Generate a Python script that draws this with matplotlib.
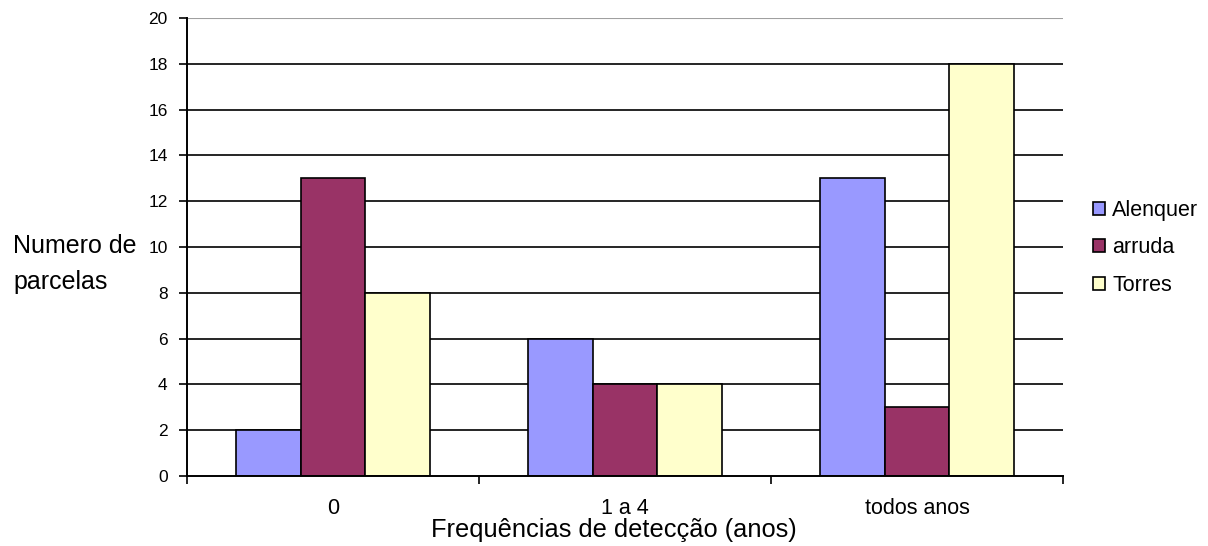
import matplotlib.pyplot as plt
import numpy as np

plt.rcParams['font.family'] = ['Liberation Sans', 'DejaVu Sans']

# Number of plots per detection-frequency class
categories = ['0', '1 a 4', 'todos anos']
series = ['Alenquer', 'arruda', 'Torres']
alenquer = [2, 6, 13]
arruda = [13, 4, 3]
torres = [8, 4, 18]
colors = ['#9999FF', '#993366', '#FFFFCC']

fig = plt.figure(figsize=(12.08, 5.46), dpi=100)
ax = fig.add_axes([187 / 1208, 1 - 476 / 546, 876 / 1208, 458 / 546])

x = np.arange(len(categories))
width = 1 / 4.5  # Excel-style 150% gap width

for i, (name, vals) in enumerate(zip(series, [alenquer, arruda, torres])):
    ax.bar(x + (i - 1) * width, vals, width, color=colors[i],
           edgecolor='black', linewidth=1.2, label=name, zorder=3)

ax.set_xlim(-0.5, len(categories) - 0.5)
ax.set_ylim(0, 20)
ax.set_yticks(range(0, 21, 2))

# horizontal gridlines, top one lighter
for y in range(2, 19, 2):
    ax.axhline(y, color='black', linewidth=1.2, zorder=1)
ax.axhline(20, color='#A0A0A0', linewidth=1.5, zorder=1)

for side in ['top', 'right']:
    ax.spines[side].set_visible(False)
for side in ['left', 'bottom']:
    ax.spines[side].set_linewidth(1.4)
    ax.spines[side].set_zorder(4)

# category labels centred, tick marks between categories
ax.set_xticks(x)
ax.set_xticklabels(categories, fontsize=15.5)
ax.tick_params(axis='x', which='major', length=0, pad=16)
ax.set_xticks(np.arange(-0.5, len(categories)), minor=True)
ax.tick_params(axis='x', which='minor', length=6, width=1.2, direction='out')
ax.tick_params(axis='y', labelsize=12.5, length=6, width=1.2, pad=8)

ax.set_xlabel('Frequências de detecção (anos)', fontsize=18.3, va='center')
ax.xaxis.set_label_coords(427 / 876, -54 / 458)
ax.set_ylabel('Numero de\nparcelas', fontsize=18, rotation=0,
              ha='left', va='center', linespacing=1.6)
ax.yaxis.set_label_coords(-174 / 876, 0.463)

ax.legend(loc='center left', bbox_to_anchor=(906 / 876, 0.498), frameon=False,
          fontsize=15.5, handlelength=0.56, handleheight=0.56,
          handletextpad=0.33, labelspacing=0.76, borderpad=0, borderaxespad=0)

fig.savefig('out.png', dpi=100)
